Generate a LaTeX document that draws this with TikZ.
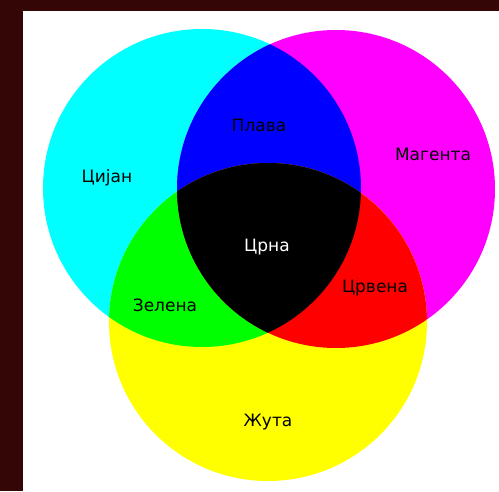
\documentclass[tikz,border=0pt]{standalone}
\usepackage{fontspec}
\setmainfont{DejaVu Sans}
\definecolor{frame}{RGB}{52,6,6}
\definecolor{cy}{RGB}{0,255,255}
\definecolor{mg}{RGB}{255,0,255}
\definecolor{yl}{RGB}{255,255,0}
\definecolor{bl}{RGB}{0,0,255}
\definecolor{gr}{RGB}{0,255,0}
\definecolor{rd}{RGB}{255,0,0}
\tikzset{lbl/.style={font=\fontsize{17}{20}\selectfont, text=black, inner sep=0pt}}
\begin{document}
\begin{tikzpicture}[x=1pt,y=-1pt]
\useasboundingbox (0,0) rectangle (499,491);
\fill[frame] (0,0) rectangle (499,491);
\fill[white] (23,11) rectangle (499,491);
\coordinate (C) at (202,188);
\coordinate (M) at (336,189);
\coordinate (Y) at (268,322);
\def\R{159}
\fill[cy] (C) circle[radius=\R];
\fill[mg] (M) circle[radius=\R];
\fill[yl] (Y) circle[radius=\R];
\begin{scope}
\clip (C) circle[radius=\R];
\fill[bl] (M) circle[radius=\R];
\fill[gr] (Y) circle[radius=\R];
\end{scope}
\begin{scope}
\clip (M) circle[radius=\R];
\fill[rd] (Y) circle[radius=\R];
\end{scope}
\begin{scope}
\clip (C) circle[radius=\R];
\clip (M) circle[radius=\R];
\fill[black] (Y) circle[radius=\R];
\end{scope}
\node[lbl] (cijan) at (107,178) {Цијан};
\node[lbl] (plava) at (259,125) {Плава};
\node[lbl] (magenta) at (433,154) {Магента};
\node[lbl, text=white] (crna) at (267,247) {Црна};
\node[lbl] (zelena) at (165,305) {Зелена};
\node[lbl] (crvena) at (375,288) {Црвена};
\node[lbl] (zuta) at (268,422) {Жута};
\end{tikzpicture}
\end{document}
